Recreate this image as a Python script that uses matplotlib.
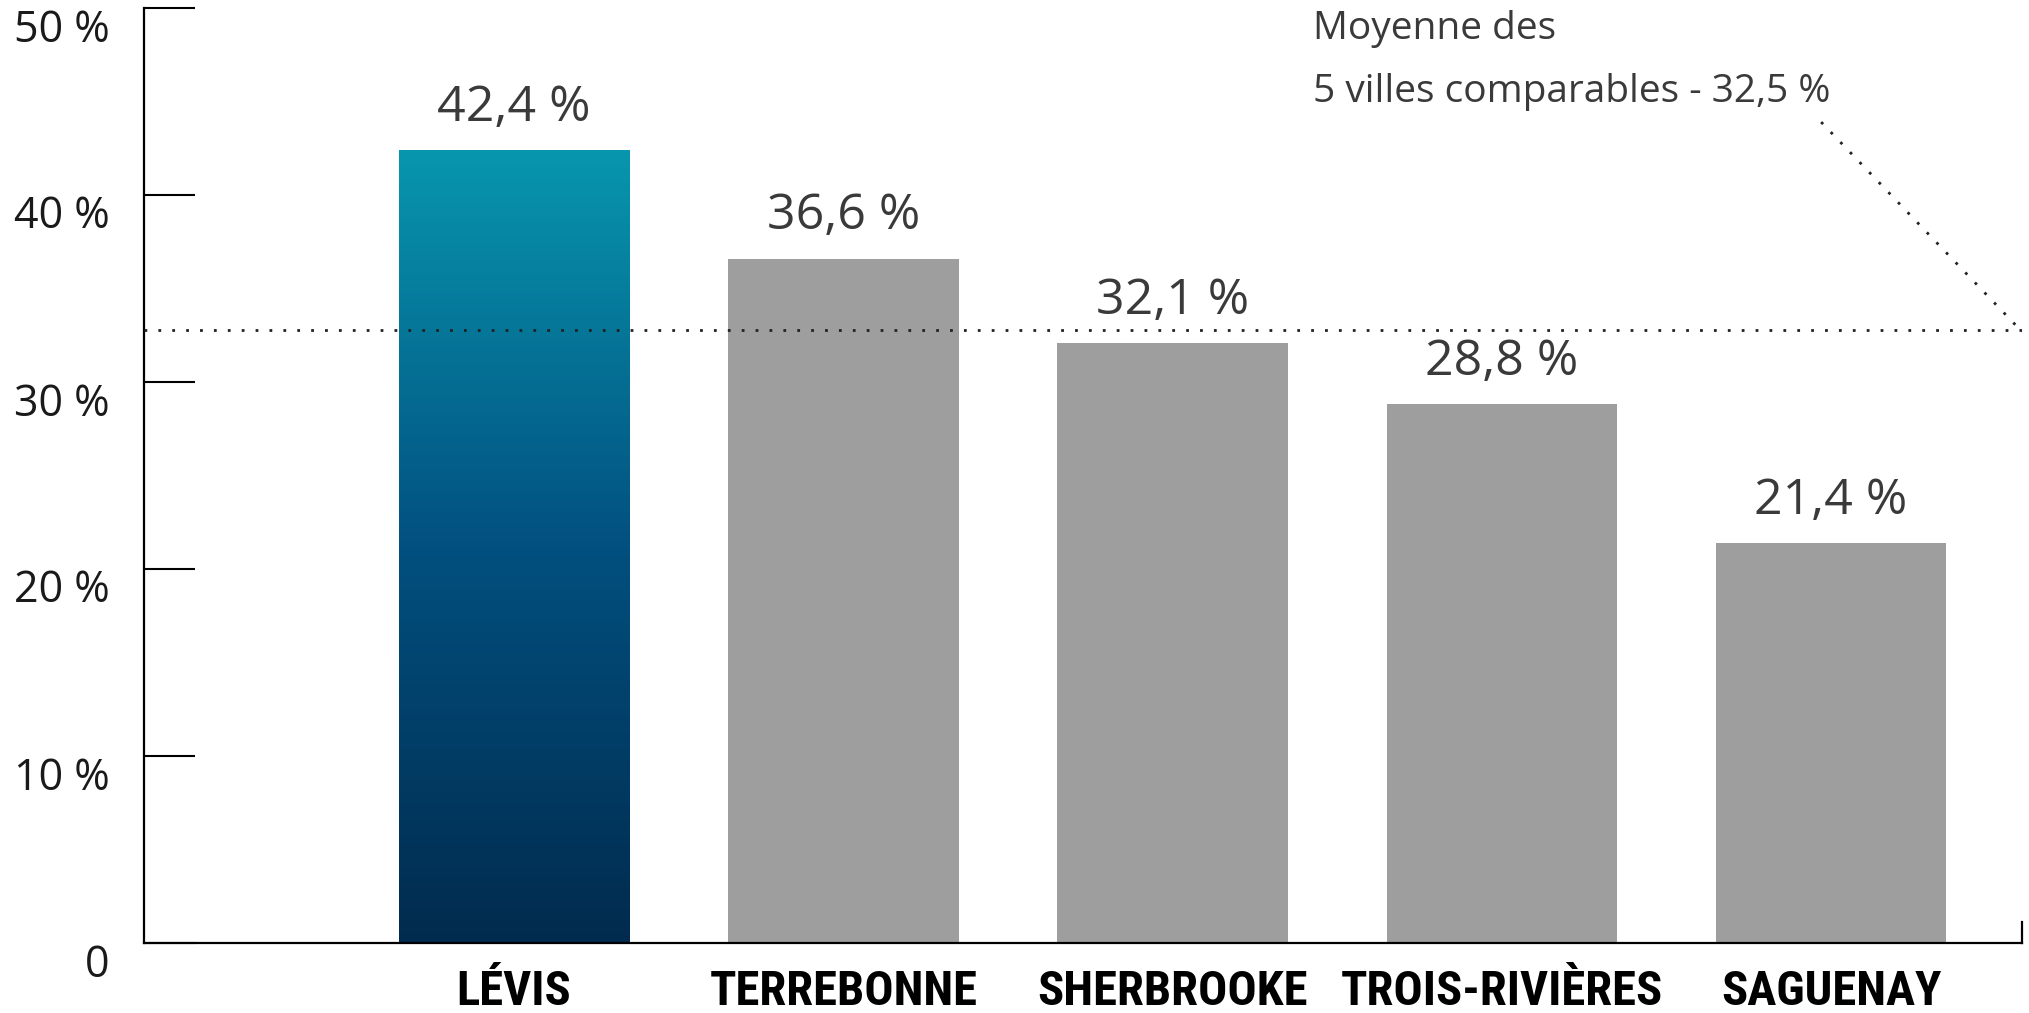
import numpy as np
import matplotlib.pyplot as plt
from matplotlib.colors import LinearSegmentedColormap

# données
villes = ["LÉVIS", "TERREBONNE", "SHERBROOKE", "TROIS-RIVIÈRES", "SAGUENAY"]
valeurs = [42.4, 36.6, 32.1, 28.8, 21.4]
etiquettes = ["42,4 %", "36,6 %", "32,1 %", "28,8 %", "21,4 %"]
yticks = [0, 10, 20, 30, 40, 50]
ytick_labels = ["0", "10 %", "20 %", "30 %", "40 %", "50 %"]
moyenne_ligne = 32.8  # position
moyenne_texte = ["Moyenne des", "5 villes comparables - 32,5 %"]
# trait de rappel vers la ligne de moyenne
rappel_x = [3.97, 4.574]
rappel_y = [43.9, moyenne_ligne]

GRIS = "#9e9e9e"
TEXTE = "#3a3a3a"
POLICE = ["Open Sans", "DejaVu Sans"]
POLICE_CAT = ["Roboto Condensed", "DejaVu Sans"]

fig = plt.figure(figsize=(20.29, 10.13), dpi=100)
ax = fig.add_axes([144 / 2029, 70 / 1013, (2022 - 144) / 2029, (943 - 8) / 1013])

x = np.arange(len(villes))
bars = ax.bar(x, valeurs, width=0.70, color=GRIS, zorder=2)

# dégradé pour Lévis
b0 = bars[0]
b0.set_facecolor("none")
cmap = LinearSegmentedColormap.from_list("levis", ["#012b4e", "#02507f", "#0896ae"])
grad = np.linspace(0, 1, 256).reshape(-1, 1)
im = ax.imshow(grad, cmap=cmap, aspect="auto", origin="lower",
               extent=[b0.get_x(), b0.get_x() + b0.get_width(), 0, b0.get_height()],
               zorder=2)
im.set_clip_path(b0)

# étiquettes de valeur
for xi, v, t in zip(x, valeurs, etiquettes):
    ax.annotate(t, (xi, v), xytext=(0, 21), textcoords="offset points",
                ha="center", va="baseline", fontsize=36, color=TEXTE, family=POLICE)

# ligne de moyenne
ax.axhline(moyenne_ligne, color="#222222", lw=2, linestyle=(0, (1, 4)), zorder=3)
ax.plot(rappel_x, rappel_y, color="#222222", lw=2, linestyle=(0, (1, 4)),
        clip_on=False, zorder=3)
ax.text(2.427, 48.9, moyenne_texte[0], ha="left", va="center", fontsize=28,
        color=TEXTE, family=POLICE)
ax.text(2.427, 45.5, moyenne_texte[1], ha="left", va="center", fontsize=28,
        color=TEXTE, family=POLICE)

ax.set_xlim(-1.124, 4.58)
ax.set_ylim(0, 50)

ax.spines["top"].set_visible(False)
ax.spines["left"].set_linewidth(1.6)
ax.spines["bottom"].set_linewidth(1.6)
ax.spines["right"].set_linewidth(1.6)
ax.spines["right"].set_bounds(0, 1.1)

ax.set_yticks(yticks, ytick_labels)
ax.tick_params(axis="y", direction="in", length=37, width=1.5, pad=25,
               labelsize=31, labelcolor="#1a1a1a")
for lbl in ax.get_yticklabels():
    lbl.set_va("top")
    lbl.set_family(POLICE)

ax.set_xticks(x, villes)
ax.tick_params(axis="x", length=0, pad=19, labelsize=35)
for lbl in ax.get_xticklabels():
    lbl.set_family(POLICE_CAT)
    lbl.set_fontweight("bold")
    lbl.set_fontstretch("condensed")
    lbl.set_color("black")

fig.savefig("out.png", dpi=100, facecolor="white")
